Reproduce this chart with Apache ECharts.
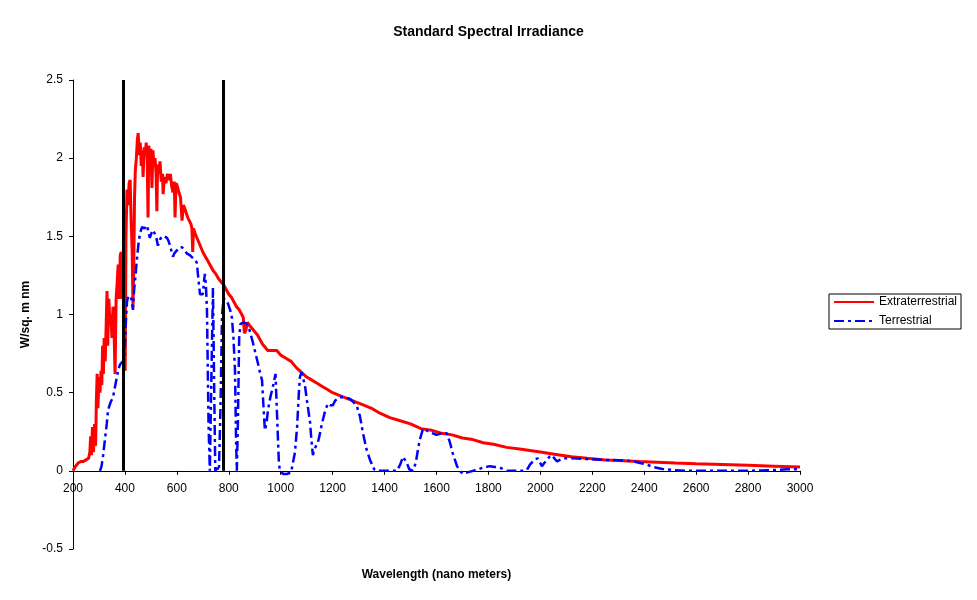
<!DOCTYPE html>
<html>
<head>
<meta charset="utf-8">
<title>Standard Spectral Irradiance</title>
<script src="https://cdn.jsdelivr.net/npm/echarts@6/dist/echarts.min.js"></script>
<style>
  html, body { margin: 0; padding: 0; background: #fff; }
  #chart { width: 977px; height: 600px; }
</style>
</head>
<body>
<div id="chart"></div>
<script>
// wavelength (nm), irradiance (W/sq. m nm)
var extraterrestrial = [
  [200, 0.0], [210, 0.03], [220, 0.05], [230, 0.06], [240, 0.06], [250, 0.07], [260, 0.08],
  [265, 0.12], [268, 0.22], [271, 0.10], [275, 0.28], [279, 0.12], [283, 0.30], [287, 0.16],
  [290, 0.45], [293, 0.62], [296, 0.40], [300, 0.60], [304, 0.50], [308, 0.64], [311, 0.55],
  [314, 0.80], [317, 0.62], [320, 0.85], [324, 0.70], [328, 0.95], [331, 1.15], [334, 0.80],
  [338, 1.10], [342, 0.95], [346, 1.00], [350, 0.85], [354, 1.05], [358, 0.90], [362, 0.62],
  [366, 1.10], [370, 1.20], [374, 1.32], [378, 1.10], [382, 1.38], [386, 1.40], [390, 1.10],
  [394, 1.35], [398, 0.75], [401, 0.64], [404, 1.50], [408, 1.80], [412, 1.70], [416, 1.84],
  [420, 1.86], [424, 1.60], [428, 1.40], [431, 1.05], [434, 1.30], [437, 1.75], [440, 1.92],
  [444, 2.00], [448, 2.12], [451, 2.16], [455, 2.02], [459, 2.10], [463, 1.95], [467, 2.05],
  [470, 1.88], [474, 2.07], [478, 2.02], [482, 2.10], [486, 1.98], [489, 1.62], [492, 2.08],
  [496, 2.00], [500, 2.06], [504, 1.81], [508, 2.05], [512, 1.95], [516, 2.00], [520, 1.90],
  [523, 1.66], [526, 1.96], [530, 1.90], [535, 1.98], [540, 1.85], [545, 1.90], [547, 1.77],
  [552, 1.88], [558, 1.84], [564, 1.90], [570, 1.86], [575, 1.90], [580, 1.82], [585, 1.78],
  [590, 1.85], [593, 1.62], [597, 1.84], [602, 1.82], [608, 1.78], [614, 1.75], [620, 1.60],
  [625, 1.70], [630, 1.68], [636, 1.68], [642, 1.62], [648, 1.62], [654, 1.58], [658, 1.55],
  [661, 1.40], [664, 1.55], [670, 1.52], [680, 1.48], [690, 1.44], [700, 1.40], [710, 1.37],
  [720, 1.34], [730, 1.31], [740, 1.28], [750, 1.26], [760, 1.23], [770, 1.21], [780, 1.19],
  [790, 1.16], [800, 1.13], [810, 1.11], [820, 1.08], [830, 1.05], [840, 1.03], [850, 1.00],
  [856, 0.98], [860, 0.88], [866, 0.90], [872, 0.95], [880, 0.93], [890, 0.91], [900, 0.89],
  [910, 0.87], [920, 0.84], [930, 0.81], [940, 0.79], [950, 0.77], [960, 0.77], [970, 0.77],
  [985, 0.77], [1000, 0.74], [1020, 0.72], [1040, 0.70], [1060, 0.66], [1080, 0.63],
  [1100, 0.60], [1120, 0.58], [1140, 0.56], [1160, 0.54], [1180, 0.52], [1200, 0.50],
  [1230, 0.48], [1260, 0.46], [1290, 0.44], [1320, 0.42], [1350, 0.40], [1380, 0.37],
  [1420, 0.34], [1460, 0.32], [1500, 0.30], [1540, 0.27], [1580, 0.26], [1620, 0.24],
  [1660, 0.23], [1700, 0.21], [1740, 0.20], [1780, 0.18], [1820, 0.17], [1870, 0.15],
  [1920, 0.14], [1960, 0.13], [2000, 0.12], [2060, 0.105], [2120, 0.09], [2180, 0.08],
  [2250, 0.07], [2320, 0.065], [2380, 0.06], [2450, 0.055], [2520, 0.05], [2600, 0.045],
  [2700, 0.04], [2800, 0.035], [2900, 0.03], [3000, 0.025]
];

var terrestrial = [
  [304, 0.0], [310, 0.03], [316, 0.10], [323, 0.20], [330, 0.30], [335, 0.39], [345, 0.44],
  [354, 0.47], [362, 0.54], [369, 0.60], [375, 0.65], [381, 0.68], [392, 0.70], [398, 0.72],
  [404, 0.96], [408, 1.08], [413, 1.12], [419, 1.13], [425, 1.10], [431, 1.03], [435, 1.15],
  [439, 1.22], [446, 1.35], [452, 1.45], [458, 1.52], [466, 1.56], [475, 1.55], [485, 1.57],
  [490, 1.53], [496, 1.49], [502, 1.52], [508, 1.54], [515, 1.53], [520, 1.50], [527, 1.44],
  [535, 1.48], [543, 1.50], [552, 1.50], [562, 1.49], [568, 1.47], [574, 1.44], [580, 1.40],
  [585, 1.37], [590, 1.39], [600, 1.41], [610, 1.43], [620, 1.43], [630, 1.41], [639, 1.39],
  [650, 1.38], [662, 1.36], [670, 1.35], [677, 1.33], [681, 1.26], [686, 1.18], [689, 1.13],
  [695, 1.13], [700, 1.13], [705, 1.22], [708, 1.26], [712, 1.18], [716, 1.03], [722, 0.30],
  [727, 0.0], [733, 0.60], [739, 1.17], [744, 0.50], [748, 0.0], [756, 0.02], [762, 0.0],
  [768, 0.40], [774, 1.00], [780, 1.10], [793, 1.09], [805, 1.03], [812, 0.98], [818, 0.85],
  [824, 0.64], [828, 0.20], [831, 0.0], [835, 0.30], [840, 0.85], [845, 0.94], [858, 0.95],
  [870, 0.94], [880, 0.90], [893, 0.82], [903, 0.75], [912, 0.69], [920, 0.63], [928, 0.58],
  [934, 0.40], [939, 0.26], [945, 0.30], [951, 0.39], [960, 0.47], [970, 0.54], [980, 0.62],
  [986, 0.63], [989, 0.22], [993, 0.05], [997, 0.0], [1010, -0.02], [1024, -0.02],
  [1040, -0.01], [1047, 0.0], [1055, 0.12], [1063, 0.28], [1070, 0.50], [1074, 0.60],
  [1080, 0.63], [1086, 0.62], [1093, 0.55], [1101, 0.45], [1107, 0.38], [1113, 0.31],
  [1118, 0.20], [1124, 0.10], [1130, 0.14], [1136, 0.13], [1143, 0.18], [1150, 0.23],
  [1156, 0.28], [1163, 0.33], [1172, 0.39], [1182, 0.43], [1190, 0.42], [1201, 0.42],
  [1210, 0.45], [1228, 0.47], [1250, 0.47], [1267, 0.46], [1280, 0.44], [1294, 0.41],
  [1305, 0.35], [1317, 0.24], [1330, 0.14], [1344, 0.07], [1360, 0.01], [1371, 0.0],
  [1400, 0.0], [1430, 0.0], [1448, 0.0], [1460, 0.04], [1471, 0.09], [1478, 0.10],
  [1486, 0.05], [1495, 0.01], [1509, 0.0], [1520, 0.05], [1530, 0.15], [1536, 0.20],
  [1548, 0.27], [1560, 0.26], [1570, 0.25], [1586, 0.24], [1600, 0.23], [1620, 0.24],
  [1640, 0.24], [1652, 0.18], [1663, 0.11], [1679, 0.03], [1690, 0.0], [1702, -0.02],
  [1720, -0.01], [1740, 0.0], [1760, 0.01], [1779, 0.02], [1806, 0.03], [1825, 0.025],
  [1844, 0.02], [1860, 0.01], [1871, 0.0], [1900, 0.0], [1930, 0.0], [1948, 0.005],
  [1960, 0.04], [1971, 0.06], [1980, 0.075], [1990, 0.08], [1998, 0.055], [2006, 0.03],
  [2015, 0.05], [2025, 0.07], [2035, 0.09], [2044, 0.10], [2054, 0.08], [2064, 0.06],
  [2075, 0.07], [2087, 0.08], [2100, 0.08], [2125, 0.08], [2180, 0.075], [2256, 0.07],
  [2300, 0.068], [2333, 0.065], [2360, 0.06], [2384, 0.05], [2410, 0.04], [2434, 0.025],
  [2470, 0.012], [2511, 0.005], [2560, 0.0], [2641, 0.0], [2750, 0.0], [2850, 0.002],
  [2896, 0.005], [2950, 0.01], [3000, 0.01]
];

// black vertical marker lines (visible band limits)
var bandLimits = [395, 777];
var bandTop = 2.5;

var seriesNames = ['Extraterrestrial', 'Terrestrial'];

var yMin = -0.5, yMax = 2.5;
var gridTop = 80, gridBottom = 51, chartHeight = 600;
// the x axis sits on y = 0, so shift it up from the grid bottom
var plotHeight = chartHeight - gridTop - gridBottom;
var xAxisOffset = -plotHeight * (0 - yMin) / (yMax - yMin);

var font = 'Liberation Sans, Arial, sans-serif';

var myChart = echarts.init(document.getElementById('chart'));

var option = {
    animation: false,
    backgroundColor: '#fff',
    title: {
        text: 'Standard Spectral Irradiance',
        left: 'center',
        top: 20,
        textStyle: { fontFamily: font, fontSize: 14, fontWeight: 'bold', color: '#000' }
    },
    grid: {
        left: 73,
        right: 177,
        top: gridTop,
        bottom: gridBottom,
        outerBoundsMode: 'none'
    },
    legend: {
        data: seriesNames,
        orient: 'vertical',
        left: 829,
        top: 294,
        padding: [2, 4, 2, 4],
        itemGap: 7,
        itemWidth: 40,
        itemHeight: 14,
        borderColor: '#000',
        borderWidth: 1,
        itemStyle: { opacity: 0 },
        textStyle: { fontFamily: font, fontSize: 12, color: '#000' }
    },
    xAxis: {
        type: 'value',
        min: 200,
        max: 3000,
        interval: 200,
        position: 'bottom',
        offset: xAxisOffset,
        name: 'Wavelength (nano meters)',
        nameLocation: 'middle',
        nameGap: 98,
        nameTextStyle: { fontFamily: font, fontSize: 12, fontWeight: 'bold', color: '#000' },
        axisLine: { onZero: false, lineStyle: { color: '#000', width: 1 } },
        axisTick: { show: true, length: 4, lineStyle: { color: '#000' } },
        axisLabel: {
            fontFamily: font, fontSize: 12, color: '#000', margin: 12,
            formatter: function (v) { return String(v); }
        },
        splitLine: { show: false }
    },
    yAxis: {
        type: 'value',
        min: yMin,
        max: yMax,
        interval: 0.5,
        name: 'W/sq. m nm',
        nameLocation: 'middle',
        nameRotate: 90,
        nameGap: 37,
        nameTextStyle: { fontFamily: font, fontSize: 12, fontWeight: 'bold', color: '#000' },
        axisLine: { show: true, onZero: false, lineStyle: { color: '#000', width: 1 } },
        axisTick: { show: true, length: 4, lineStyle: { color: '#000' } },
        axisLabel: { fontFamily: font, fontSize: 12, color: '#000', margin: 10 },
        splitLine: { show: false }
    },
    series: [
        {
            name: seriesNames[0],
            type: 'line',
            symbol: 'none',
            data: extraterrestrial,
            lineStyle: { color: '#ff0000', width: 3 },
            itemStyle: { color: '#ff0000' },
            z: 2,
            markLine: {
                silent: true,
                symbol: ['none', 'none'],
                label: { show: false },
                lineStyle: { color: '#000', width: 3, type: 'solid' },
                data: bandLimits.map(function (x) {
                    return [{ coord: [x, 0] }, { coord: [x, bandTop] }];
                })
            }
        },
        {
            name: seriesNames[1],
            type: 'line',
            symbol: 'none',
            data: terrestrial,
            lineStyle: { color: '#0000ff', width: 2.5, type: [10, 4, 3, 4] },
            itemStyle: { color: '#0000ff' },
            z: 3
        }
    ]
};

myChart.setOption(option);
</script>
</body>
</html>
